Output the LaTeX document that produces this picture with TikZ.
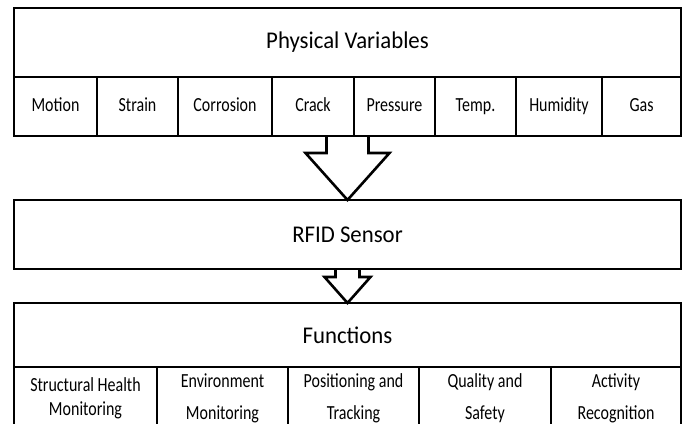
\documentclass[tikz,border=0pt]{standalone}
\usepackage{fontspec}
\setmainfont{Carlito}
\newfontfamily\headfont[FakeStretch=0.95]{Carlito}
\newfontfamily\cellfont[FakeStretch=0.8]{Carlito}
\usetikzlibrary{positioning,calc}

\begin{document}
\begin{tikzpicture}[x=1pt,y=1pt,line width=2.6pt,line join=miter]
      \tikzstyle{bigbox}=[rectangle,draw,inner sep=0pt,outer sep=0pt,minimum width=667pt,font=\headfont\fontsize{24}{28}\selectfont]
      \tikzstyle{var}=[rectangle,draw,inner sep=0pt,outer sep=0pt,minimum height=59pt,text height=14pt,text depth=4pt,font=\cellfont\fontsize{20}{24}\selectfont]
      \tikzstyle{func}=[rectangle,draw,inner sep=0pt,outer sep=0pt,minimum height=62pt,align=center,font=\cellfont\fontsize{20}{24}\selectfont]
      \useasboundingbox (0,0) rectangle (685,423);
      % physical variables
      \node[bigbox,minimum height=69pt](phys) at (347.5,380.5){Physical Variables};
      \node[var,minimum width=83pt,below right=0pt of phys.south west](motion){Motion};
      \node[var,minimum width=81pt,right=0pt of motion](strain){Strain};
      \node[var,minimum width=94pt,right=0pt of strain](corrosion){Corrosion};
      \node[var,minimum width=82pt,right=0pt of corrosion](crack){Crack};
      \node[var,minimum width=81pt,right=0pt of crack](pressure){Pressure};
      \node[var,minimum width=81pt,right=0pt of pressure](temp){Temp.};
      \node[var,minimum width=86pt,right=0pt of temp](humidity){Humidity};
      \node[var,minimum width=79pt,right=0pt of humidity](gas){Gas};
      % sensor
      \node[bigbox,minimum height=69pt,anchor=north](rfid) at ($(phys.south |- motion.south)+(0,-64)$){RFID Sensor};
      % functions
      \node[bigbox,minimum height=64pt,below=34pt of rfid](funcs){Functions};
      \node[func,minimum width=143pt,below right=0pt of funcs.south west](shm){Structural Health\\Monitoring};
      \node[func,minimum width=131pt,right=0pt of shm](env){Environment\\[8pt]Monitoring};
      \node[func,minimum width=131pt,right=0pt of env](pos){Positioning and\\[8pt]Tracking};
      \node[func,minimum width=132pt,right=0pt of pos](qual){Quality and\\[8pt]Safety};
      \node[func,minimum width=130pt,right=0pt of qual](act){Activity\\[8pt]Recognition};
      % hollow arrows
      \coordinate (a1) at (rfid.north |- motion.south);
      \draw ($(a1)+(-21,0)$) -- ++(0,-17) -- ++(-21,0) -- (rfid.north)
            -- ($(a1)+(42,-17)$) -- ++(-21,0) -- ++(0,17);
      \coordinate (a2) at (funcs.north |- rfid.south);
      \draw ($(a2)+(-12,0)$) -- ++(0,-8) -- ++(-11,0) -- (funcs.north)
            -- ($(a2)+(23,-8)$) -- ++(-11,0) -- ++(0,8);
\end{tikzpicture}
\end{document}
